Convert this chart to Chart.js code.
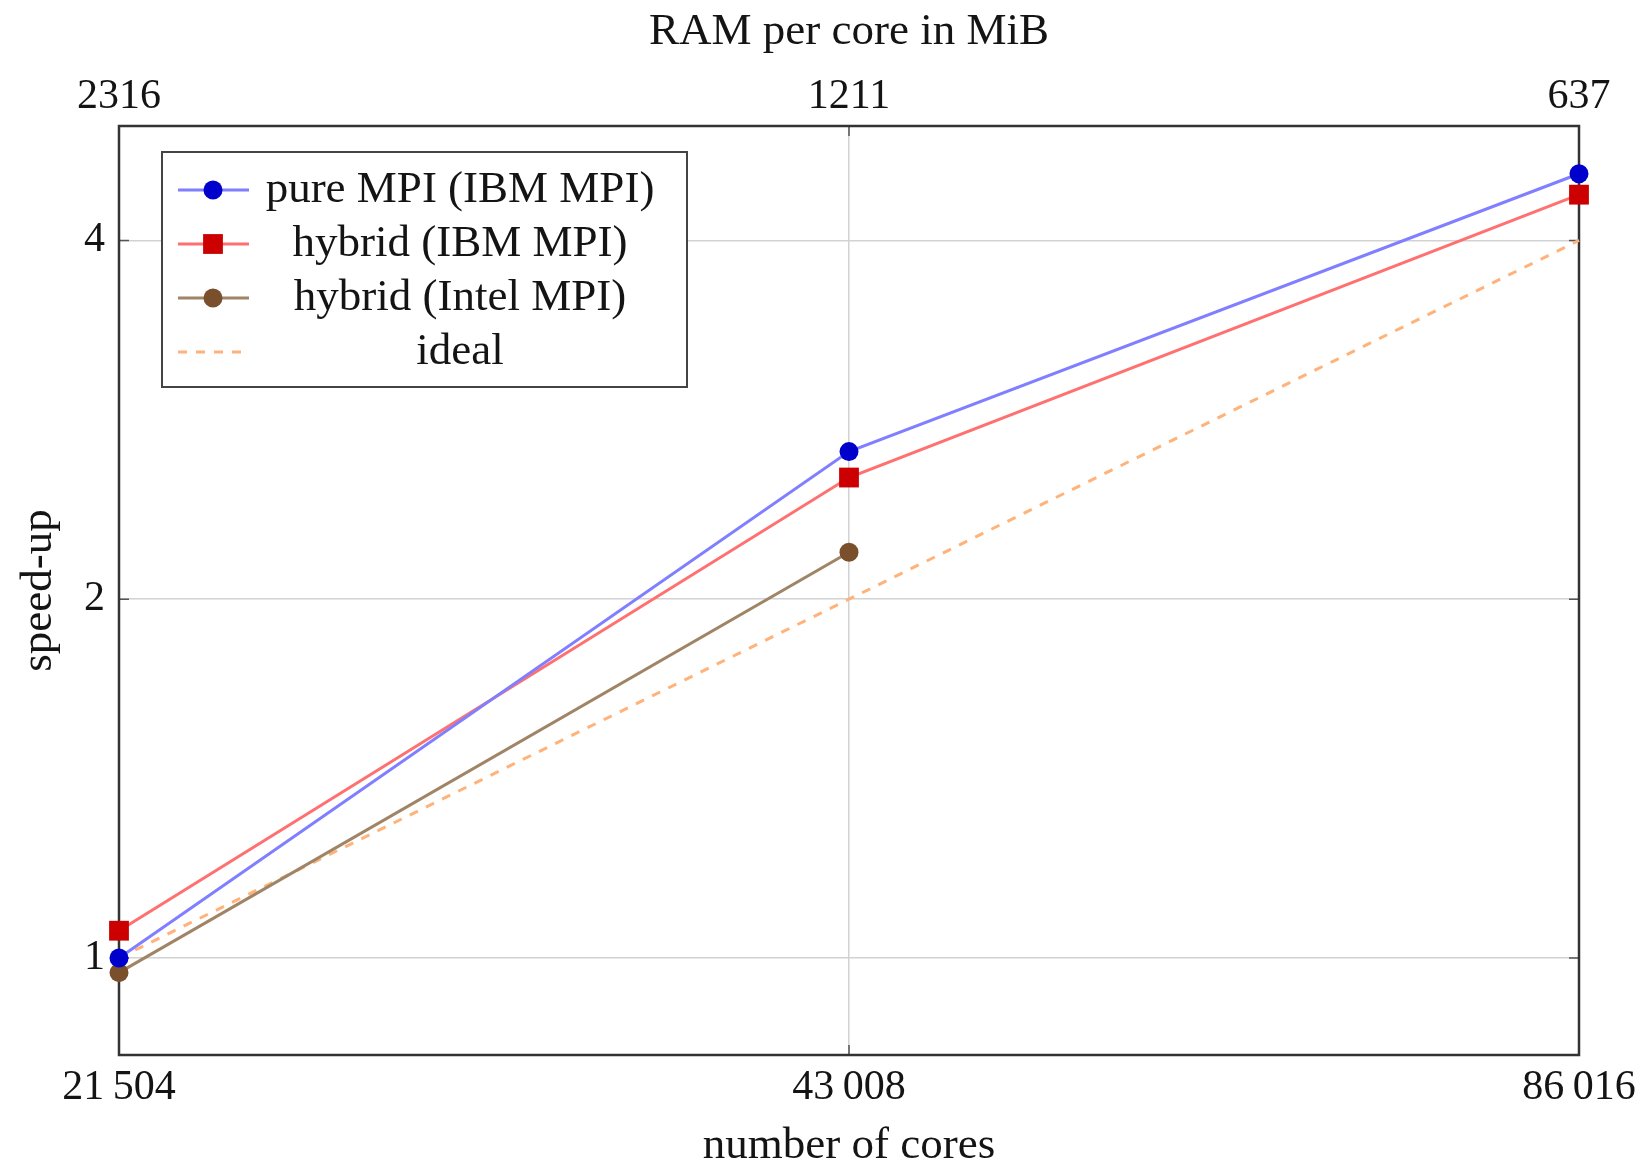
<!DOCTYPE html>
<html>
<head>
<meta charset="utf-8">
<script src="https://cdn.jsdelivr.net/npm/chart.js@4/dist/chart.umd.min.js"></script>
<style>
  html, body { margin: 0; padding: 0; background: #fff; }
  #wrap { width: 1640px; height: 1160px; }
</style>
</head>
<body>
<div id="wrap"><canvas id="speedupChart"></canvas></div>
<script>
// cores on the bottom axis, RAM per core on the top axis
const cores = [21504, 43008, 86016];
const coreLabels = ['21\u2009504', '43\u2009008', '86\u2009016'];
const ramPerCore = ['2316', '1211', '637'];
const speedupTicks = [1, 2, 4];

// measured speed-up
const pureMpiIbm = [1.0, 2.66, 4.55];
const hybridIbm = [1.054, 2.53, 4.37];
const hybridIntel = [0.972, 2.19];
const ideal = [1, 2, 4];

const serif = '"Liberation Serif", "DejaVu Serif", serif';
const ink = '#141414';

function pts(vals) {
  return vals.map((v, i) => ({ x: cores[i], y: v }));
}

// legend drawn like the pgfplots box: sample on the left, centered text
const boxLegend = {
  id: 'boxLegend',
  afterDatasetsDraw(chart) {
    const ctx = chart.ctx;
    const x0 = 162, y0 = 152, w = 525, h = 235;
    ctx.save();
    ctx.fillStyle = '#fff';
    ctx.fillRect(x0, y0, w, h);
    ctx.strokeStyle = '#444';
    ctx.lineWidth = 2;
    ctx.strokeRect(x0, y0, w, h);
    ctx.font = '45px ' + serif;
    ctx.textAlign = 'center';
    ctx.textBaseline = 'middle';
    chart.data.datasets.forEach((ds, i) => {
      const cy = 190 + i * 54;
      ctx.strokeStyle = ds.borderColor;
      ctx.lineWidth = ds.borderWidth;
      ctx.setLineDash(ds.borderDash || []);
      ctx.beginPath();
      ctx.moveTo(178, cy);
      ctx.lineTo(249, cy);
      ctx.stroke();
      ctx.setLineDash([]);
      if (ds.pointRadius > 0) {
        ctx.fillStyle = ds.pointBackgroundColor;
        ctx.beginPath();
        if (ds.pointStyle === 'rect') {
          const s = ds.pointRadius * Math.SQRT1_2;
          ctx.rect(213 - s, cy - s, 2 * s, 2 * s);
        } else {
          ctx.arc(213, cy, ds.pointRadius, 0, Math.PI * 2);
        }
        ctx.fill();
      }
      ctx.fillStyle = ink;
      ctx.fillText(ds.label, 460, cy);
    });
    ctx.restore();
  }
};

// frame around the plot with small inward tick marks
const frame = {
  id: 'frame',
  beforeDatasetsDraw(chart) {
    const { ctx, chartArea: a, scales } = chart;
    ctx.save();
    ctx.strokeStyle = '#555';
    ctx.lineWidth = 1.5;
    ctx.beginPath();
    speedupTicks.forEach(v => {
      const y = scales.y.getPixelForValue(v);
      ctx.moveTo(a.left, y); ctx.lineTo(a.left + 10, y);
      ctx.moveTo(a.right, y); ctx.lineTo(a.right - 10, y);
    });
    cores.forEach(v => {
      const x = scales.x.getPixelForValue(v);
      ctx.moveTo(x, a.top); ctx.lineTo(x, a.top + 10);
      ctx.moveTo(x, a.bottom); ctx.lineTo(x, a.bottom - 10);
    });
    ctx.stroke();
    ctx.strokeStyle = '#333';
    ctx.lineWidth = 2.5;
    ctx.strokeRect(a.left, a.top, a.right - a.left, a.bottom - a.top);
    ctx.restore();
  }
};

const gridColor = '#d2d2d2';

// fixed axis box sizes; label overhang is covered by the layout padding
function fixHeight(h) {
  return s => { s.height = h; s.paddingLeft = 0; s.paddingRight = 0; };
}

new Chart(document.getElementById('speedupChart'), {
  type: 'line',
  data: {
    datasets: [
      {
        label: 'pure MPI (IBM MPI)',
        data: pts(pureMpiIbm),
        borderColor: '#7f7fff',
        borderWidth: 3,
        pointStyle: 'circle',
        pointRadius: 9.5,
        pointBackgroundColor: '#0000cc',
        pointBorderWidth: 0,
        clip: false
      },
      {
        label: 'hybrid (IBM MPI)',
        data: pts(hybridIbm),
        borderColor: '#ff7070',
        borderWidth: 3,
        pointStyle: 'rect',
        pointRadius: 14,
        pointBackgroundColor: '#cc0000',
        pointBorderWidth: 0,
        clip: false
      },
      {
        label: 'hybrid (Intel MPI)',
        data: pts(hybridIntel),
        borderColor: '#a08466',
        borderWidth: 3,
        pointStyle: 'circle',
        pointRadius: 9.5,
        pointBackgroundColor: '#7a4f2c',
        pointBorderWidth: 0,
        clip: false
      },
      {
        label: 'ideal',
        data: pts(ideal),
        borderColor: '#ffb27a',
        borderWidth: 3,
        borderDash: [9, 9],
        pointRadius: 0,
        clip: false
      }
    ]
  },
  options: {
    responsive: true,
    maintainAspectRatio: false,
    animation: false,
    layout: { padding: { left: 0, right: 61, top: 0, bottom: 0 } },
    plugins: { legend: { display: false }, tooltip: { enabled: false } },
    scales: {
      x: {
        type: 'logarithmic',
        position: 'bottom',
        min: cores[0],
        max: cores[cores.length - 1],
        afterBuildTicks: s => { s.ticks = cores.map(v => ({ value: v })); },
        afterFit: fixHeight(105),
        ticks: {
          autoSkip: false, maxRotation: 0, padding: 8, color: ink,
          font: { family: serif, size: 42 },
          callback: (v, i) => coreLabels[i]
        },
        grid: { color: gridColor, lineWidth: 1.5, drawTicks: false },
        border: { display: false },
        title: {
          display: true, text: 'number of cores', color: ink,
          font: { family: serif, size: 45, lineHeight: 0.62 }, padding: 0
        }
      },
      x2: {
        type: 'logarithmic',
        position: 'top',
        min: cores[0],
        max: cores[cores.length - 1],
        afterBuildTicks: s => { s.ticks = cores.map(v => ({ value: v })); },
        afterFit: fixHeight(126),
        ticks: {
          autoSkip: false, maxRotation: 0, padding: 4, color: ink,
          font: { family: serif, size: 42 },
          callback: (v, i) => ramPerCore[i]
        },
        grid: { display: false, drawTicks: false },
        border: { display: false },
        title: {
          display: true, text: 'RAM per core in MiB', color: ink,
          font: { family: serif, size: 45 }, padding: { top: 5, bottom: 0 }
        }
      },
      y: {
        type: 'logarithmic',
        position: 'left',
        min: 0.829,
        max: 4.99,
        afterBuildTicks: s => { s.ticks = speedupTicks.map(v => ({ value: v })); },
        afterFit: s => { s.width = 119; },
        ticks: {
          padding: 14, color: ink,
          font: { family: serif, size: 42 },
          callback: v => String(v)
        },
        grid: { color: gridColor, lineWidth: 1.5, drawTicks: false },
        border: { display: false },
        title: {
          display: true, text: 'speed-up', color: ink,
          font: { family: serif, size: 45 }, padding: { top: 12, bottom: 0 }
        }
      }
    }
  },
  plugins: [frame, boxLegend]
});
</script>
</body>
</html>
